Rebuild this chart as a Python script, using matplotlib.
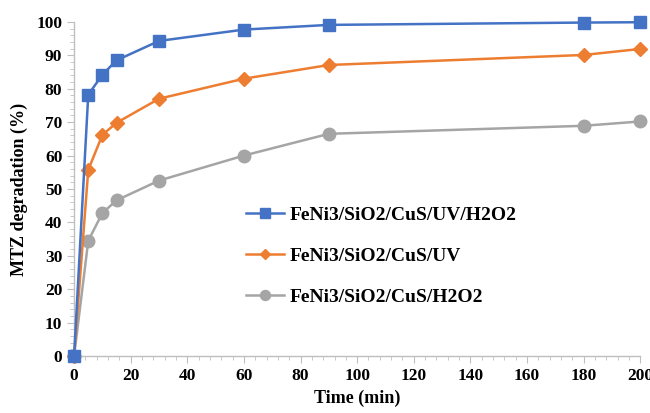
import matplotlib
matplotlib.use("Agg")
import matplotlib.pyplot as plt
from matplotlib.ticker import MultipleLocator

plt.rcParams['font.family'] = ['Liberation Serif', 'DejaVu Serif']

time_min = [0, 5, 10, 15, 30, 60, 90, 180, 200]
uv_h2o2 = [0, 78.2, 84.2, 88.5, 94.3, 97.7, 99.1, 99.8, 99.9]
uv = [0, 55.7, 66.2, 69.8, 77.0, 83.0, 87.1, 90.1, 91.9]
h2o2 = [0, 34.5, 42.8, 46.6, 52.5, 60.0, 66.5, 68.9, 70.2]
labels = ["FeNi3/SiO2/CuS/UV/H2O2", "FeNi3/SiO2/CuS/UV", "FeNi3/SiO2/CuS/H2O2"]

fig = plt.figure(figsize=(6.5, 4.13), dpi=100)
ax = fig.add_axes([0.114, 0.138, 0.871, 0.809])

ax.plot(time_min, uv_h2o2, color='#4472C4', marker='s', markersize=8.5, lw=1.8, label=labels[0], zorder=3)
ax.plot(time_min, uv, color='#ED7D31', marker='D', markersize=7, lw=1.8, label=labels[1], zorder=2)
ax.plot(time_min, h2o2, color='#A5A5A5', marker='o', markersize=9, lw=1.8, label=labels[2], zorder=1)

ax.set_xlim(0, 200)
ax.set_ylim(0, 100)
ax.xaxis.set_major_locator(MultipleLocator(20))
ax.xaxis.set_minor_locator(MultipleLocator(4))
ax.yaxis.set_major_locator(MultipleLocator(10))
ax.yaxis.set_minor_locator(MultipleLocator(2))

for s in ['top', 'right']:
    ax.spines[s].set_visible(False)
for s in ['left', 'bottom']:
    ax.spines[s].set_color('#BFBFBF')
    ax.spines[s].set_linewidth(1.0)
ax.tick_params(which='both', color='#BFBFBF', direction='out')
ax.tick_params(which='major', length=5, labelsize=12.5)
ax.tick_params(which='minor', length=3)
for t in ax.get_xticklabels() + ax.get_yticklabels():
    t.set_fontweight('bold')

ax.set_xlabel('Time (min)', fontsize=13, fontweight='bold', labelpad=4)
ax.set_ylabel('MTZ degradation (%)', fontsize=13, fontweight='bold', labelpad=6)
for l in ax.lines:
    l.set_clip_on(False)

leg = ax.legend(loc='upper left', bbox_to_anchor=(0.272, 0.5), frameon=False,
                prop={'weight': 'bold', 'size': 14}, labelspacing=1.2,
                handlelength=1.95, handletextpad=0.3, markerscale=0.8)

fig.savefig('out.png', dpi=100)
